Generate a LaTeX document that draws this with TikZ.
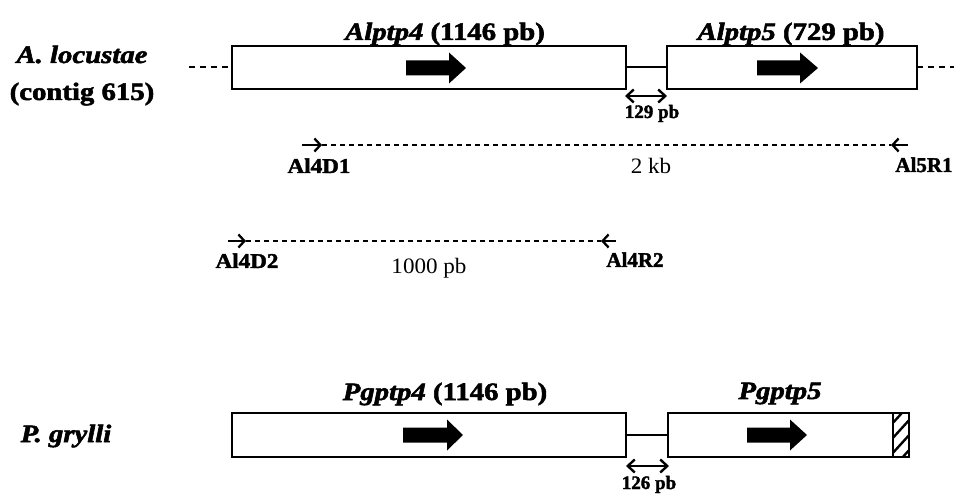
\documentclass[tikz,border=0pt]{standalone}
\usepackage{fontspec}
\setmainfont{Liberation Serif}[BoldFeatures={FakeBold=2}, BoldItalicFeatures={FakeBold=2}]
\usetikzlibrary{arrows.meta}
\newcommand\wide[2][1.2]{\scalebox{#1}[1]{#2}}
\tikzset{
  gene/.style={draw, line width=2.6pt, fill=white, rectangle, inner sep=0pt, outer sep=0pt},
  link/.style={line width=2pt},
  flank/.style={line width=2pt, dash pattern=on 6pt off 5pt},
  dimarrow/.style={line width=2.4pt, {Straight Barb[length=7pt,width=13pt]}-{Straight Barb[length=7pt,width=13pt]}},
  primer/.style={line width=2.3pt, -{Straight Barb[length=6pt,width=13pt]}},
  amplicon/.style={line width=1.9pt, dash pattern=on 5pt off 4pt},
  big/.style={anchor=base, inner sep=0pt, font=\fontsize{25}{28}\selectfont\bfseries},
  lab/.style={anchor=base, inner sep=0pt, font=\fontsize{21}{24}\selectfont\bfseries},
  size/.style={anchor=base, inner sep=0pt, font=\fontsize{22}{24}\selectfont},
  small/.style={anchor=base, inner sep=0pt, font=\fontsize{19}{20}\selectfont\bfseries},
}
\newcommand\blockarrow[4]{% x0, xhead, x1, yc
  \fill (#1,#4-7.5) -- (#2,#4-7.5) -- (#2,#4-15.5) -- (#3,#4) -- (#2,#4+15.5) -- (#2,#4+7.5) -- (#1,#4+7.5) -- cycle;}
\begin{document}
\begin{tikzpicture}[x=1pt,y=-1pt]
\useasboundingbox (0,0) rectangle (954,497);

% ---------- A. locustae ----------
\node[big] (sp1) at (82,63) {\wide[1.15]{\itshape A. locustae}};
\node[big] (sp1b) at (82,100) {\wide[1.15]{(contig 615)}};

\node[gene, minimum width=394pt, minimum height=43pt] (a4) at (429,67.5) {};
\node[gene, minimum width=250pt, minimum height=43pt] (a5) at (792,67.5) {};
\coordinate (lfl) at (189,67.5);
\coordinate (rfl) at (954,67.5);
\draw[flank] (lfl) -- (a4.west);
\draw[flank] (a5.east) -- (rfl);
\draw[link] (a4.east) -- (a5.west);
\blockarrow{406}{449}{466}{68}
\blockarrow{757}{800}{818}{68}

\node[big] (h4) at (445,40) {\wide[1.15]{{\itshape Alptp4} (1146 pb)}};
\node[big] (h5) at (791,40) {\wide[1.15]{{\itshape Alptp5} (729 pb)}};

\coordinate (d1a) at (625,96);
\coordinate (d1b) at (667,96);
\draw[dimarrow] (d1a) -- (d1b);
\node[small] (d1) at (652,118) {\wide[1.0]{129 pb}};

% ---------- primers ----------
\coordinate (p1s) at (302,145);
\coordinate (p1e) at (322,145);
\coordinate (p2e) at (891,145);
\coordinate (p2s) at (908,145);
\draw[primer] (p1s) -- (p1e);
\draw[amplicon] (p1e) -- (p2e);
\draw[primer] (p2s) -- (p2e);
\node[lab] (al4d1) at (319,173) {\wide[1.1]{Al4D1}};
\node[size] (kb2) at (651,174) {\wide[1.05]{2 kb}};
\node[lab] (al5r1) at (924,172) {\wide[1.0]{Al5R1}};

\coordinate (q1s) at (228,241);
\coordinate (q1e) at (246,241);
\coordinate (q2e) at (601,241);
\coordinate (q2s) at (616,241);
\draw[primer] (q1s) -- (q1e);
\draw[amplicon] (q1e) -- (q2e);
\draw[primer] (q2s) -- (q2e);
\node[lab] (al4d2) at (247,268) {\wide[1.1]{Al4D2}};
\node[size] (pb1000) at (429,274) {\wide[1.05]{1000 pb}};
\node[lab] (al4r2) at (635,267) {\wide[1.0]{Al4R2}};

% ---------- P. grylli ----------
\node[big] (sp2) at (66,442) {\wide[1.15]{\itshape P. grylli}};

\node[gene, minimum width=394pt, minimum height=44pt] (g4) at (429,435) {};
\node[gene, minimum width=241pt, minimum height=44pt] (g5) at (788.5,435) {};
\draw[link] (g4.east) -- (g5.west);
\begin{scope}
  \clip (893,413) rectangle (909,457);
  \foreach \yy in {410,425,...,485} \draw[line width=2.4pt] (891,\yy) -- (911,\yy-22);
\end{scope}
\draw[line width=2.4pt] (893,413) -- (893,457);
\draw[line width=2.6pt] (g5.north west) rectangle (g5.south east);
\blockarrow{403}{447}{463}{435}
\blockarrow{747}{790}{807}{435}

\node[big] (hp4) at (445,400) {\wide[1.15]{{\itshape Pgptp4} (1146 pb)}};
\node[big] (hp5) at (780,399) {\wide[1.15]{\itshape Pgptp5}};

\coordinate (d2a) at (626,466);
\coordinate (d2b) at (669,466);
\draw[dimarrow] (d2a) -- (d2b);
\node[small] (d2) at (649,489) {\wide[1.0]{126 pb}};
\end{tikzpicture}
\end{document}
